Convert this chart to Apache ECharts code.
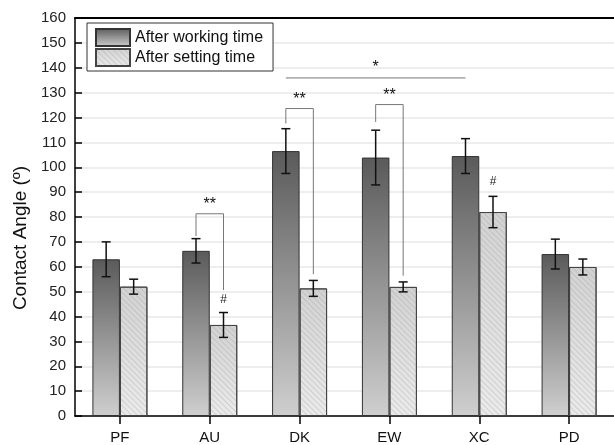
<!DOCTYPE html>
<html>
<head>
<meta charset="utf-8">
<script src="https://cdn.jsdelivr.net/npm/echarts@6/dist/echarts.min.js"></script>
<style>html,body{margin:0;padding:0;background:#fff;}#main{width:614px;height:445px;}</style>
</head>
<body>
<div id="main"></div>
<script>
// ---- data ----
const categories = ['PF', 'AU', 'DK', 'EW', 'XC', 'PD'];
const workingMean = [63.0, 66.4, 106.5, 103.9, 104.5, 65.1];
const workingErr  = [7.0, 4.9, 9.0, 11.0, 7.0, 6.0];
const settingMean = [52.0, 36.6, 51.3, 51.9, 82.0, 59.9];
const settingErr  = [3.0, 5.0, 3.2, 2.0, 6.3, 3.2];
const seriesNames = ['After working time', 'After setting time'];
const yMin = 0, yMax = 160, yStep = 10;
// brackets: [category index, left leg bottom, right leg bottom, top]
const brackets = [[1, 72.3, 50.6, 81.3], [2, 117.6, 57.0, 123.6], [3, 118.2, 56.4, 125.2]];
const bracketLabel = '**';
// '#' marks above "after setting time" bars: [category index, value]
const hashMarks = [[1, 46.6], [4, 94.0]];
// long significance line: [from category, to category, value]
const longLine = [[2, 4, 135.9]];
const longLineLabel = '*';

const FONT = "'Liberation Sans', Arial, sans-serif";
const BAR_W = 27.5;
const HALF = BAR_W / 2;

function errRender(offset) {
  return function (params, api) {
    const i = api.value(0);
    const lo = api.coord([i, api.value(1)]);
    const hi = api.coord([i, api.value(2)]);
    const x = lo[0] + offset;
    const cap = 4.5;
    const st = { stroke: '#111', lineWidth: 1.5 };
    return {
      type: 'group',
      children: [
        { type: 'line', shape: { x1: x, y1: lo[1], x2: x, y2: hi[1] }, style: st },
        { type: 'line', shape: { x1: x - cap, y1: lo[1], x2: x + cap, y2: lo[1] }, style: st },
        { type: 'line', shape: { x1: x - cap, y1: hi[1], x2: x + cap, y2: hi[1] }, style: st }
      ]
    };
  };
}

const chart = echarts.init(document.getElementById('main'), null, { renderer: 'canvas' });
chart.setOption({
  animation: false,
  backgroundColor: '#fff',
  textStyle: { fontFamily: FONT },
  grid: { left: 75, width: 542, top: 18, height: 398 },
  legend: {
    data: seriesNames,
    icon: 'rect',
    orient: 'vertical',
    left: 87, top: 23,
    itemWidth: 34, itemHeight: 17, itemGap: 1,
    padding: [5, 10, 4, 8],
    borderColor: '#333', borderWidth: 1,
    backgroundColor: '#fff',
    textStyle: { fontSize: 16, color: '#111', fontFamily: FONT },
    selectedMode: false
  },
  xAxis: [{
    type: 'category',
    data: categories,
    axisLine: { lineStyle: { color: '#000', width: 1.5 } },
    axisTick: { show: true, alignWithLabel: true, inside: false, length: 8, lineStyle: { color: '#000', width: 1.5 } },
    axisLabel: { fontSize: 15, color: '#111', margin: 14, fontFamily: FONT },
    splitLine: { show: false }
  }, {
    type: 'category',
    data: categories,
    position: 'top',
    axisLine: { show: true, lineStyle: { color: '#000', width: 2 } },
    axisTick: { show: false },
    axisLabel: { show: false },
    splitLine: { show: false }
  }],
  yAxis: {
    type: 'value',
    min: yMin, max: yMax, interval: yStep,
    name: 'Contact Angle (º)',
    nameLocation: 'middle',
    nameRotate: 90,
    nameGap: 45,
    nameTextStyle: { fontSize: 19, color: '#111', fontFamily: FONT, padding: [0, 42, 0, 0] },
    axisLine: { show: true, lineStyle: { color: '#000', width: 1.5 } },
    axisTick: { show: true, inside: true, length: 7, lineStyle: { color: '#000', width: 1.5 } },
    axisLabel: { fontSize: 15, color: '#222', margin: 9, fontFamily: FONT },
    splitLine: { show: true, lineStyle: { color: '#e9e9e9', width: 1.5 } }
  },
  series: [
    {
      name: seriesNames[0], type: 'bar', data: workingMean,
      barWidth: BAR_W, barGap: '0%',
      itemStyle: {
        color: new echarts.graphic.LinearGradient(0, 0, 0, 1, [
          { offset: 0, color: '#5a5a5a' }, { offset: 1, color: '#cfcfcf' }
        ]),
        borderColor: '#333', borderWidth: 1
      },
      z: 2
    },
    {
      name: seriesNames[1], type: 'bar', data: settingMean,
      barWidth: BAR_W, barGap: '0%',
      itemStyle: {
        color: new echarts.graphic.LinearGradient(0, 0, 0, 1, [
          { offset: 0, color: '#d2d2d2' }, { offset: 1, color: '#ebebeb' }
        ]),
        borderColor: '#444', borderWidth: 1,
        decal: {
          symbol: 'rect', symbolSize: 1,
          dashArrayX: [1, 0], dashArrayY: [1, 3],
          rotation: Math.PI / 4,
          color: 'rgba(150,150,150,0.3)'
        }
      },
      z: 2
    },
    {
      type: 'custom', name: 'errW', silent: true, z: 5, clip: true,
      data: categories.map((c, i) => [i, workingMean[i] - workingErr[i], workingMean[i] + workingErr[i]]),
      renderItem: errRender(-HALF)
    },
    {
      type: 'custom', name: 'errS', silent: true, z: 5, clip: true,
      data: categories.map((c, i) => [i, settingMean[i] - settingErr[i], settingMean[i] + settingErr[i]]),
      renderItem: errRender(HALF)
    },
    {
      type: 'custom', name: 'brackets', silent: true, z: 6, clip: true,
      data: brackets,
      renderItem: function (params, api) {
        const i = api.value(0);
        const pl = api.coord([i, api.value(1)]);
        const pr = api.coord([i, api.value(2)]);
        const pt = api.coord([i, api.value(3)]);
        const xl = pl[0] - HALF, xr = pl[0] + HALF;
        return {
          type: 'group',
          children: [
            { type: 'polyline', shape: { points: [[xl, pl[1]], [xl, pt[1]], [xr, pt[1]], [xr, pr[1]]] },
              style: { stroke: '#777', lineWidth: 1, fill: 'none' } },
            { type: 'text', x: pl[0], y: pt[1] - 1,
              style: { text: bracketLabel, fontSize: 16, fontFamily: FONT, fill: '#111', align: 'center', verticalAlign: 'bottom' } }
          ]
        };
      }
    },
    {
      type: 'custom', name: 'hash', silent: true, z: 6, clip: true,
      data: hashMarks,
      renderItem: function (params, api) {
        const p = api.coord([api.value(0), api.value(1)]);
        return { type: 'text', x: p[0] + HALF, y: p[1],
          style: { text: '#', fontSize: 12, fontFamily: FONT, fill: '#222', align: 'center', verticalAlign: 'middle' } };
      }
    },
    {
      type: 'custom', name: 'longline', silent: true, z: 6, clip: true,
      data: longLine,
      renderItem: function (params, api) {
        const a = api.coord([api.value(0), api.value(2)]);
        const b = api.coord([api.value(1), api.value(2)]);
        const xa = a[0] - HALF, xb = b[0] - HALF;
        return {
          type: 'group',
          children: [
            { type: 'line', shape: { x1: xa, y1: a[1], x2: xb, y2: a[1] }, style: { stroke: '#777', lineWidth: 1 } },
            { type: 'text', x: (xa + xb) / 2, y: a[1] - 2,
              style: { text: longLineLabel, fontSize: 16, fontFamily: FONT, fill: '#111', align: 'center', verticalAlign: 'bottom' } }
          ]
        };
      }
    }
  ]
});
</script>
</body>
</html>
